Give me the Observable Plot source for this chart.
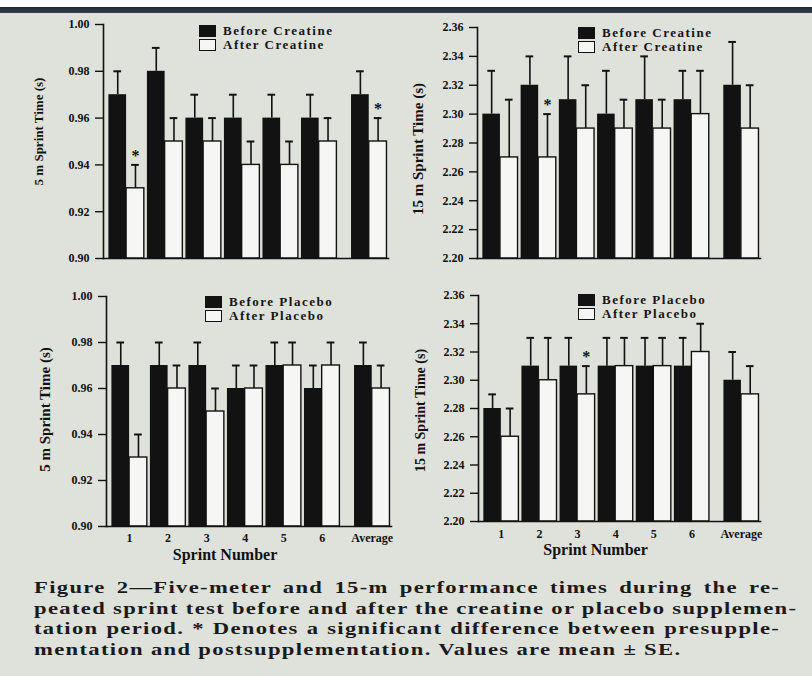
<!DOCTYPE html>
<html>
<head>
<meta charset="utf-8">
<script src="https://cdn.jsdelivr.net/npm/d3@7"></script>
<script src="https://cdn.jsdelivr.net/npm/@observablehq/plot@0.6"></script>
<style>
  html, body { margin: 0; padding: 0; width: 812px; height: 676px; overflow: hidden; background: #dfe1db; }
  #wrap { position: relative; width: 812px; height: 676px; background: #dfe1db; }
  #topwhite { position: absolute; left: 0; top: 0; width: 812px; height: 7px; background: #fbfbfb; }
  #topdark { position: absolute; left: 0; top: 7px; width: 812px; height: 6px; background: linear-gradient(#1b2233, #3a4150); }
  .panel { position: absolute; }
  .legend { position: absolute; font: bold 13px "Liberation Serif", serif; letter-spacing: 1.5px; color: #151515; }
  .legend .row { position: relative; height: 14px; line-height: 14px; padding-left: 24px; white-space: nowrap; }
  .legend .sw { position: absolute; left: 0; top: 1px; width: 17px; height: 12px; box-sizing: border-box; }
  .legend .sw.b { background: #121212; }
  .legend .sw.w { background: #f6f6f4; border: 1.4px solid #121212; }
  #caption { position: absolute; left: 34px; top: 578px; font: bold 17px "Liberation Serif", serif; letter-spacing: 1px; line-height: 20.7px; color: #1a1a1a; }
  #caption div { width: 561px; transform: scaleX(1.33); transform-origin: 0 0; white-space: nowrap; }
  #caption div.j { text-align: justify; text-align-last: justify; }
</style>
</head>
<body>
<div id="wrap">
  <div id="topwhite"></div>
  <div id="topdark"></div>
</div>
<script>
// ---- data ----
const sprints = ["1", "2", "3", "4", "5", "6", "Average"];

const cr5Before   = [0.97, 0.98, 0.96, 0.96, 0.96, 0.96, 0.97];
const cr5BeforeSE = [0.01, 0.01, 0.01, 0.01, 0.01, 0.01, 0.01];
const cr5After    = [0.93, 0.95, 0.95, 0.94, 0.94, 0.95, 0.95];
const cr5AfterSE  = [0.01, 0.01, 0.01, 0.01, 0.01, 0.01, 0.01];
const cr5Sig      = [true, false, false, false, false, false, true];

const cr15Before   = [2.30, 2.32, 2.31, 2.30, 2.31, 2.31, 2.32];
const cr15BeforeSE = [0.03, 0.02, 0.03, 0.03, 0.03, 0.02, 0.03];
const cr15After    = [2.27, 2.27, 2.29, 2.29, 2.29, 2.30, 2.29];
const cr15AfterSE  = [0.04, 0.03, 0.03, 0.02, 0.02, 0.03, 0.03];
const cr15Sig      = [false, true, false, false, false, false, false];

const pl5Before   = [0.97, 0.97, 0.97, 0.96, 0.97, 0.96, 0.97];
const pl5BeforeSE = [0.01, 0.01, 0.01, 0.01, 0.01, 0.01, 0.01];
const pl5After    = [0.93, 0.96, 0.95, 0.96, 0.97, 0.97, 0.96];
const pl5AfterSE  = [0.01, 0.01, 0.01, 0.01, 0.01, 0.01, 0.01];
const pl5Sig      = [false, false, false, false, false, false, false];

const pl15Before   = [2.28, 2.31, 2.31, 2.31, 2.31, 2.31, 2.30];
const pl15BeforeSE = [0.01, 0.02, 0.02, 0.02, 0.02, 0.02, 0.02];
const pl15After    = [2.26, 2.30, 2.29, 2.31, 2.31, 2.32, 2.29];
const pl15AfterSE  = [0.02, 0.03, 0.02, 0.02, 0.02, 0.02, 0.02];
const pl15Sig      = [false, false, true, false, false, false, false];

const yTicks5  = [0.90, 0.92, 0.94, 0.96, 0.98, 1.00];
const yTicks15 = [2.20, 2.22, 2.24, 2.26, 2.28, 2.30, 2.32, 2.34, 2.36];
const yDomain5  = [0.90, 1.00];
const yDomain15 = [2.20, 2.36];

const yTitle5  = "5 m Sprint Time (s)";
const yTitle15 = "15 m Sprint Time (s)";
const xTitle   = "Sprint Number";
const legendCreatine = ["Before Creatine", "After Creatine"];
const legendPlacebo  = ["Before Placebo", "After Placebo"];

const captionLines = [
  "Figure 2—Five-meter and 15-m performance times during the re-",
  "peated sprint test before and after the creatine or placebo supplemen-",
  "tation period. * Denotes a significant difference between presupple-",
  "mentation and postsupplementation. Values are mean ± SE."
];

// ---- layout helpers ----
const INK = "#121212";
const W = 0.46;     // bar width in slot units
const CAP = 0.1;    // half cap width
const slot = i => (i < 6 ? i + 1 : 7.3);   // "Average" set slightly apart
const xDomain = [0.4, 7.8];
const FONT = "Liberation Serif";

function panel(cfg) {
  const rows = sprints.map((s, i) => ({
    s, c: slot(i),
    b: cfg.before[i], bse: cfg.beforeSE[i],
    a: cfg.after[i], ase: cfg.afterSE[i],
    sig: cfg.sig[i]
  }));
  const y0 = cfg.domain[0];
  const labelOf = new Map(rows.map(d => [d.c, d.s]));
  const marks = [
    Plot.rectY(rows, {x1: d => d.c - W, x2: d => d.c, y1: d => y0, y2: d => d.b, fill: INK}),
    Plot.rectY(rows, {x1: d => d.c, x2: d => d.c + W, y1: d => y0, y2: d => d.a, fill: "#f6f6f4", stroke: INK, strokeWidth: 1.4}),
    Plot.ruleX(rows, {x: d => d.c - W / 2, y1: d => d.b, y2: d => d.b + d.bse, stroke: INK, strokeWidth: 1.6}),
    Plot.ruleY(rows, {y: d => d.b + d.bse, x1: d => d.c - W / 2 - CAP, x2: d => d.c - W / 2 + CAP, stroke: INK, strokeWidth: 2}),
    Plot.ruleX(rows, {x: d => d.c + W / 2, y1: d => d.a, y2: d => d.a + d.ase, stroke: INK, strokeWidth: 1.6}),
    Plot.ruleY(rows, {y: d => d.a + d.ase, x1: d => d.c + W / 2 - CAP, x2: d => d.c + W / 2 + CAP, stroke: INK, strokeWidth: 2}),
    Plot.text(rows.filter(d => d.sig), {x: d => d.c + W / 2, y: d => d.a + d.ase, text: () => "*", dy: -4, lineAnchor: "bottom", fontSize: 16, fontWeight: "bold", fill: INK}),
    Plot.frame({anchor: "left", stroke: INK, strokeWidth: 1.6}),
    Plot.frame({anchor: "bottom", stroke: INK, strokeWidth: 1.6}),
    Plot.axisY({ticks: cfg.ticks, tickFormat: d3.format(".2f"), tickSize: 8, tickPadding: 6, fontSize: 12, fontWeight: "bold", label: null, stroke: INK, strokeWidth: 1.4}),
    Plot.text([cfg.yTitle], {frameAnchor: "left", textAnchor: "middle", lineAnchor: "middle", dx: cfg.yt.dx, dy: cfg.yt.dy, rotate: -90, fontSize: cfg.yt.size, fontWeight: "bold", fill: INK})
  ];
  if (cfg.showX) {
    marks.push(Plot.axisX({ticks: rows.map(d => d.c), tickFormat: c => labelOf.get(c), tickSize: 0, tickPadding: cfg.xTickPad, fontSize: 12, fontWeight: "bold", label: null}));
    marks.push(Plot.text([xTitle], {frameAnchor: "bottom", textAnchor: "middle", lineAnchor: "middle", dx: -24, dy: 28, fontSize: 16, fontWeight: "bold", fill: INK}));
  }
  const svg = Plot.plot({
    width: cfg.width, height: cfg.height,
    marginLeft: cfg.ml, marginRight: cfg.mr, marginTop: cfg.mt, marginBottom: cfg.mb,
    x: {domain: xDomain, axis: null},
    y: {domain: cfg.domain, axis: null},
    style: {background: "transparent", fontFamily: FONT, color: INK, overflow: "visible"},
    marks
  });
  const div = document.createElement("div");
  div.className = "panel";
  div.style.left = cfg.left + "px";
  div.style.top = cfg.top + "px";
  div.appendChild(svg);
  document.getElementById("wrap").appendChild(div);

  const lg = document.createElement("div");
  lg.className = "legend";
  lg.style.left = cfg.legend.left + "px";
  lg.style.top = cfg.legend.top + "px";
  lg.innerHTML = `<div class="row"><span class="sw b"></span>${cfg.legend.labels[0]}</div>` +
                 `<div class="row"><span class="sw w"></span>${cfg.legend.labels[1]}</div>`;
  document.getElementById("wrap").appendChild(lg);
}

panel({before: cr5Before, beforeSE: cr5BeforeSE, after: cr5After, afterSE: cr5AfterSE, sig: cr5Sig,
  domain: yDomain5, ticks: yTicks5, yTitle: yTitle5, yt: {dx: -65, dy: -10, size: 13}, showX: false,
  left: 0, top: 0, width: 400, height: 275, ml: 103, mr: 12, mt: 24, mb: 17,
  legend: {left: 199, top: 24, labels: legendCreatine}});

panel({before: cr15Before, beforeSE: cr15BeforeSE, after: cr15After, afterSE: cr15AfterSE, sig: cr15Sig,
  domain: yDomain15, ticks: yTicks15, yTitle: yTitle15, yt: {dx: -59, dy: 6, size: 15}, showX: false,
  left: 400, top: 0, width: 412, height: 275, ml: 77, mr: 52, mt: 27, mb: 17,
  legend: {left: 578, top: 26, labels: legendCreatine}});

panel({before: pl5Before, beforeSE: pl5BeforeSE, after: pl5After, afterSE: pl5AfterSE, sig: pl5Sig,
  domain: yDomain5, ticks: yTicks5, yTitle: yTitle5, yt: {dx: -61, dy: -2, size: 15}, showX: true, xTickPad: 7,
  left: 0, top: 280, width: 400, height: 290, ml: 106, mr: 9, mt: 16, mb: 44,
  legend: {left: 205, top: 295, labels: legendPlacebo}});

panel({before: pl15Before, beforeSE: pl15BeforeSE, after: pl15After, afterSE: pl15AfterSE, sig: pl15Sig,
  domain: yDomain15, ticks: yTicks15, yTitle: yTitle15, yt: {dx: -58, dy: 2, size: 14}, showX: true, xTickPad: 8,
  left: 400, top: 280, width: 412, height: 290, ml: 78, mr: 52, mt: 15, mb: 49,
  legend: {left: 578, top: 293, labels: legendPlacebo}});

// caption
const cap = document.createElement("div");
cap.id = "caption";
cap.innerHTML = captionLines.map((t, i) => `<div class="${i < 3 ? "j" : ""}">${t}</div>`).join("");
document.getElementById("wrap").appendChild(cap);
</script>
</body>
</html>
